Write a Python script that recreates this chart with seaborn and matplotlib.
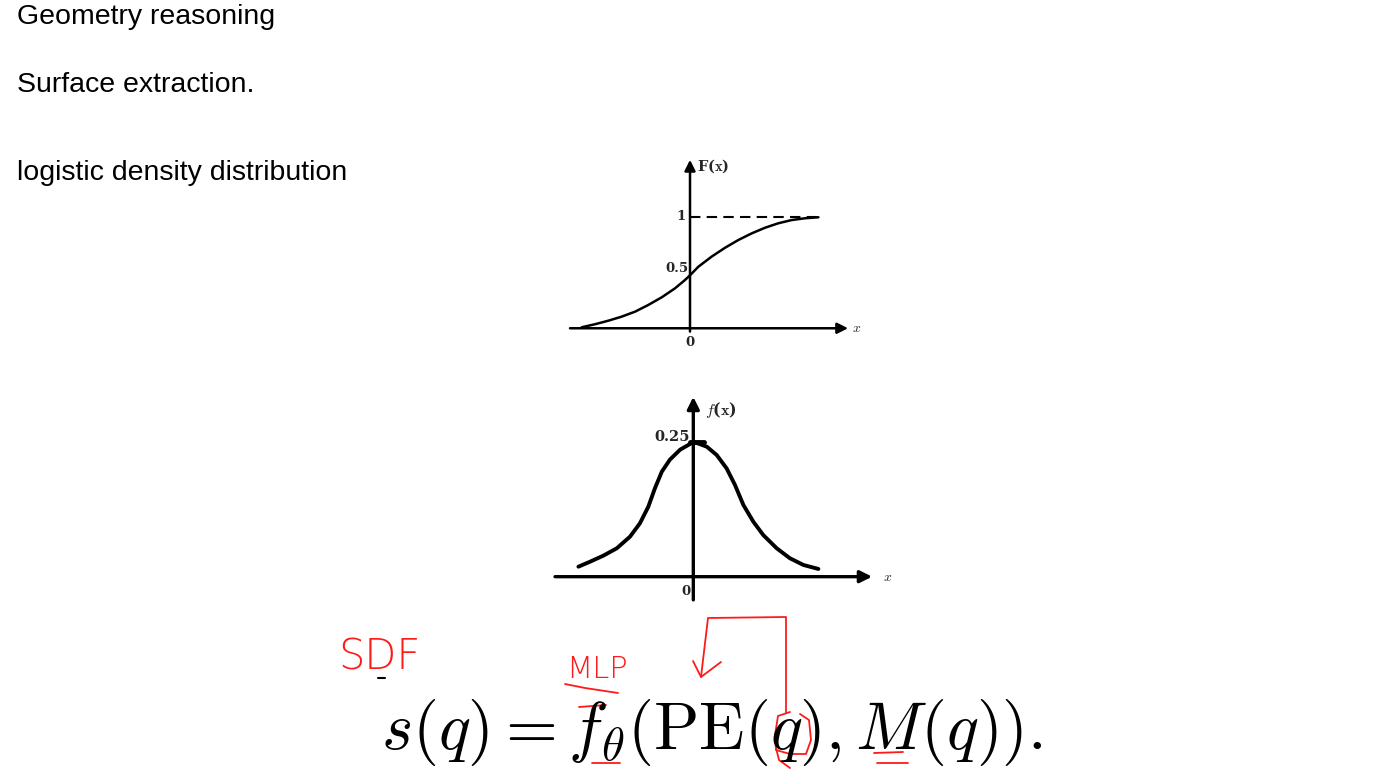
import numpy as np
import matplotlib
matplotlib.use('Agg')
import matplotlib.pyplot as plt
import seaborn as sns

# values
cdf_x = [-3.61, -3.17, -2.72, -2.28, -1.83, -1.39, -0.94, -0.50, -0.17, 0.0, 0.28, 0.72,
         1.17, 1.61, 2.06, 2.50, 2.94, 3.39, 3.83, 4.28]
cdf_y = [0.009, 0.036, 0.068, 0.104, 0.149, 0.209, 0.278, 0.358, 0.432, 0.475, 0.552, 0.642,
         0.722, 0.791, 0.851, 0.901, 0.941, 0.970, 0.986, 0.995]

pdf_x = [-3.83, -3.44, -3.0, -2.55, -2.11, -1.78, -1.5, -1.28, -1.05, -0.78, -0.44, -0.11, 0.0,
         0.45, 0.78, 1.11, 1.39, 1.67, 2.0, 2.33, 2.78, 3.22, 3.67, 4.17]
pdf_y = [0.0185, 0.0278, 0.0389, 0.0526, 0.0741, 0.0988, 0.1296, 0.1636, 0.1944, 0.2167, 0.2352,
         0.2457, 0.25, 0.2407, 0.2253, 0.2006, 0.1698, 0.1327, 0.1019, 0.0772, 0.0526, 0.0341,
         0.0217, 0.0143]

slide_lines = ['Geometry reasoning', 'Surface extraction.', 'logistic density distribution']
formula = r'$s(q)=f_\theta(\mathrm{PE}(q),M(q)).$'

sns.set_theme(style='white')
plt.rcParams['font.family'] = ['Liberation Sans', 'DejaVu Sans']
plt.rcParams['mathtext.fontset'] = 'cm'

W, H = 1383, 770
fig = plt.figure(figsize=(W / 100, H / 100), dpi=100)
fig.patch.set_facecolor('white')


def px_axes(l, t, r, b):
    return fig.add_axes([l / W, 1 - b / H, (r - l) / W, (b - t) / H])


# background layer in pixel units for slide text and pen strokes
bg = fig.add_axes([0, 0, 1, 1])
bg.set_xlim(0, W)
bg.set_ylim(H, 0)
bg.axis('off')

for txt, yb in zip(slide_lines, [24, 92, 180]):
    bg.text(17, yb, txt, fontsize=20.5, va='baseline', ha='left', color='black',
            family=['Liberation Sans', 'DejaVu Sans'])

bg.text(381, 749, formula, fontsize=48, va='baseline', ha='left', color='black')

red = '#ff1a1a'
bg.text(338, 669, 'SDF', fontsize=30, color=red, va='baseline', ha='left',
        fontweight='ultralight', family=['DejaVu Sans'])
bg.text(566, 678, 'MLP', fontsize=22, color=red, va='baseline', ha='left',
        fontweight='ultralight', family=['DejaVu Sans'])
strokes = [
    [(786, 713), (786, 617), (708, 618), (701, 677)],
    [(693, 661), (701, 677), (721, 662)],
    [(790, 712), (778, 716), (775, 735), (776, 750), (790, 754), (806, 754), (811, 740), (809, 720), (800, 714)],
    [(776, 748), (779, 760), (790, 768)],
    [(565, 684), (585, 688), (605, 691), (618, 693)],
    [(579, 707), (606, 705)],
    [(592, 763), (620, 763)],
    [(874, 753), (903, 752)],
    [(877, 763), (908, 763)],
]
for s in strokes:
    xs, ys = zip(*s)
    bg.plot(xs, ys, color=red, lw=1.3, solid_capstyle='round', solid_joinstyle='round')
bg.plot([378, 385], [678, 678], color='black', lw=1.5)

# top: cumulative distribution
ax1 = px_axes(565, 150, 870, 345)
ax1.set_xlim(-4.167, 6.0)
ax1.set_ylim(-0.15, 1.598)
ax1.axis('off')
sns.lineplot(x=cdf_x, y=cdf_y, ax=ax1, color='black', lw=1.8)
ax1.plot([0, 4.33], [1, 1], color='black', lw=1.5, ls=(0, (5, 3)))
arrow = dict(arrowstyle='-|>', color='black', lw=1.8, mutation_scale=16, shrinkA=0, shrinkB=0)
ax1.annotate('', xy=(5.27, 0), xytext=(-4.0, 0), arrowprops=arrow)
ax1.annotate('', xy=(0, 1.51), xytext=(0, -0.03), arrowprops=arrow)
ax1.text(0.23, 1.454, r'F($\mathbf{x}$)', fontsize=10.5, fontweight='bold', family='DejaVu Serif', va='center')
ax1.text(-0.13, 1.0, '1', fontsize=9.5, fontweight='bold', family='DejaVu Serif', ha='right', va='center')
ax1.text(-0.05, 0.54, '0.5', fontsize=9.5, fontweight='bold', family='DejaVu Serif', ha='right', va='center')
ax1.text(0.0, -0.13, '0', fontsize=9.5, fontweight='bold', family='DejaVu Serif', ha='center', va='center')
ax1.text(5.57, 0.0, r'$x$', fontsize=10, ha='center', va='center')

# bottom: density
ax2 = px_axes(550, 390, 900, 610)
ax2.set_xlim(-4.777, 6.89)
ax2.set_ylim(-0.0617, 0.3457)
ax2.axis('off')
sns.lineplot(x=pdf_x, y=pdf_y, ax=ax2, color='black', lw=2.8)
arrow2 = dict(arrowstyle='-|>', color='black', lw=2.4, mutation_scale=18, shrinkA=0, shrinkB=0)
ax2.annotate('', xy=(5.96, 0), xytext=(-4.61, 0), arrowprops=arrow2)
ax2.annotate('', xy=(0, 0.333), xytext=(0, -0.043), arrowprops=arrow2)
ax2.plot([-0.1, 0.35], [0.25, 0.25], color='black', lw=3.5)
ax2.text(0.39, 0.309, r'$\mathbf{\mathit{f}}$($\mathbf{x}$)', fontsize=11.5, fontweight='bold', family='DejaVu Serif', va='center')
ax2.text(-0.11, 0.259, '0.25', fontsize=10.5, fontweight='bold', family='DejaVu Serif', ha='right', va='center')
ax2.text(-0.25, -0.028, '0', fontsize=9.5, fontweight='bold', family='DejaVu Serif', ha='center', va='center')
ax2.text(6.49, 0.0, r'$x$', fontsize=10, ha='center', va='center')

fig.savefig('out.png', dpi=100, facecolor='white')
